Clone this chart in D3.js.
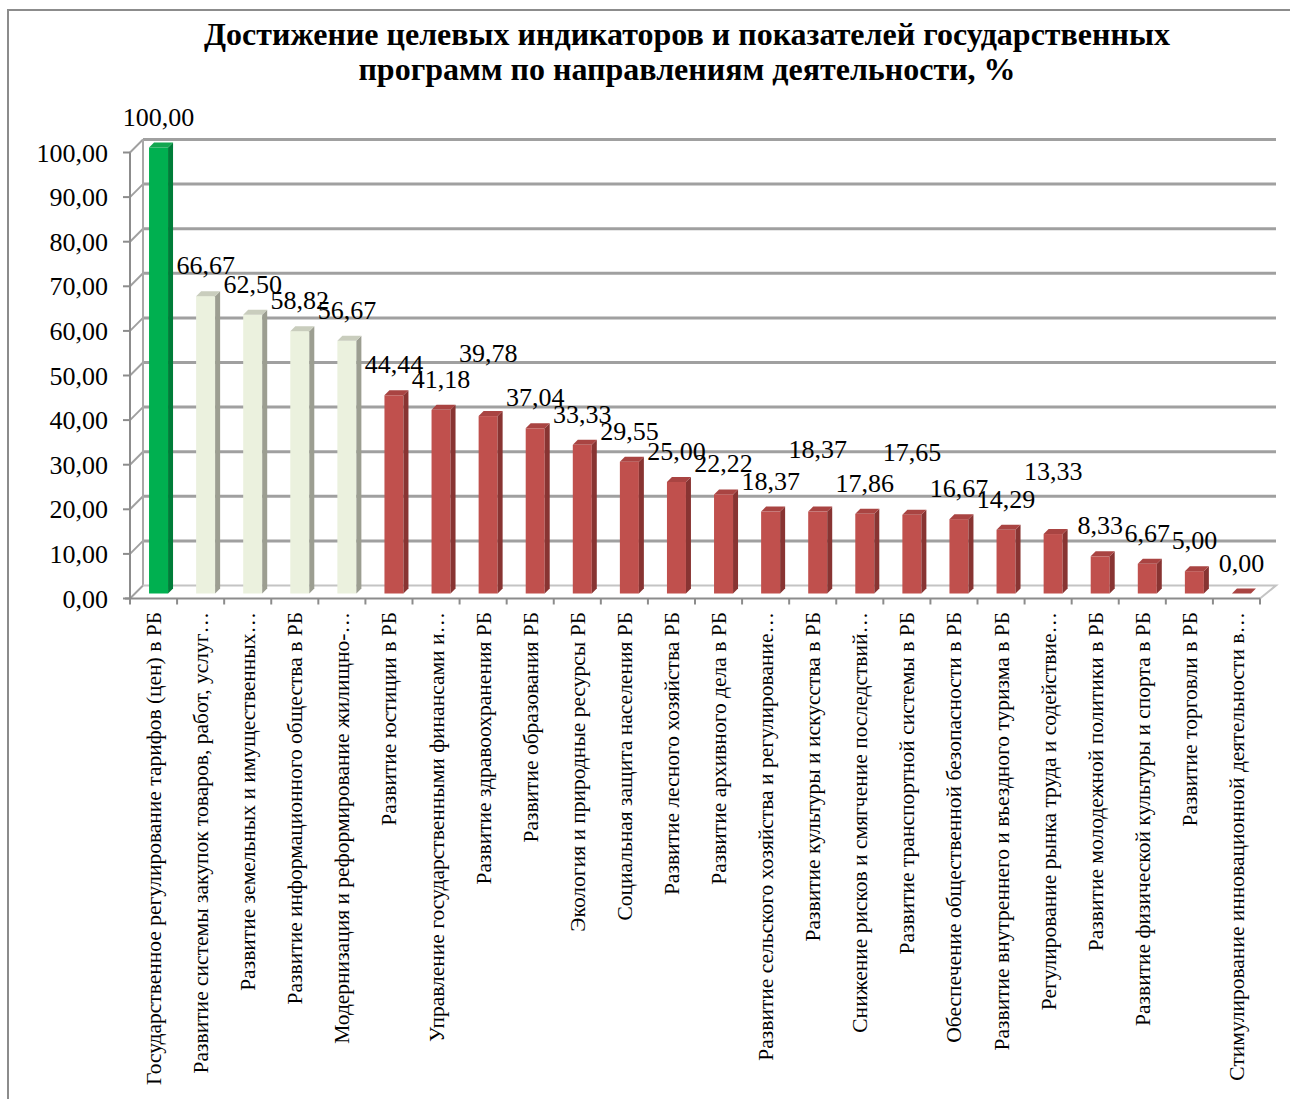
<!DOCTYPE html>
<html>
<head>
<meta charset="utf-8">
<script src="https://cdn.jsdelivr.net/npm/d3@7"></script>
<style>
  body { margin: 0; background: #fff; }
  svg { display: block; font-family: "Liberation Serif", "Times New Roman", serif; }
</style>
</head>
<body>
<div id="chart"></div>
<script>
// Data
const categories = [
  'Государственное регулирование тарифов (цен) в РБ',
  'Развитие системы закупок товаров, работ, услуг…',
  'Развитие земельных и имущественных…',
  'Развитие информационного общества в РБ',
  'Модернизация и реформирование жилищно-…',
  'Развитие юстиции в РБ',
  'Управление государственными финансами и…',
  'Развитие здравоохранения РБ',
  'Развитие образования РБ',
  'Экология  и природные ресурсы РБ',
  'Социальная защита населения РБ',
  'Развитие лесного хозяйства РБ',
  'Развитие архивного дела в РБ',
  'Развитие сельского хозяйства и регулирование…',
  'Развитие культуры и искусства в РБ',
  'Снижение рисков и смягчение последствий…',
  'Развитие транспортной системы в РБ',
  'Обеспечение общественной безопасности в РБ',
  'Развитие внутреннего и въездного туризма в РБ',
  'Регулирование рынка труда и содействие…',
  'Развитие молодежной политики в РБ',
  'Развитие физической культуры и спорта в РБ',
  'Развитие торговли в РБ',
  'Стимулирование инновационной деятельности в…'
];
const values = [100.00, 66.67, 62.50, 58.82, 56.67, 44.44, 41.18, 39.78, 37.04, 33.33,
  29.55, 25.00, 22.22, 18.37, 18.37, 17.86, 17.65, 16.67, 14.29, 13.33, 8.33, 6.67, 5.00, 0.00];
const groups = ['full', 'high', 'high', 'high', 'high', 'low', 'low', 'low', 'low', 'low',
  'low', 'low', 'low', 'low', 'low', 'low', 'low', 'low', 'low', 'low', 'low', 'low', 'low', 'low'];
const yTicks = [0, 10, 20, 30, 40, 50, 60, 70, 80, 90, 100];
const titleLines = [
  'Достижение целевых индикаторов и показателей государственных',
  'программ по направлениям деятельности, %'
];

// Options
const width = 1290, height = 1099;
const depth = 13;          // 3D offset of the back wall
const barFront = 5, barBack = 10, barWidth = 19;
const labelOptions = { gap: 22, minSpacing: 8, lift: 32 };

const palette = {
  full: { front: '#00b050', side: '#007d39', top: '#13a650' },
  high: { front: '#ebf1de', side: '#9c9e91', top: '#c9cdbd' },
  low:  { front: '#c0504d', side: '#883432', top: '#a94442' }
};

const fmt = v => d3.format('.2f')(v).replace('.', ',');

const svg = d3.select('#chart').append('svg')
  .attr('width', width)
  .attr('height', height);

// Chart border
svg.append('path')
  .attr('d', `M8,${height} L8,10 L${width},10`)
  .attr('fill', 'none')
  .attr('stroke', '#8c8c8c')
  .attr('stroke-width', 2);

// Title
svg.append('g').selectAll('text')
  .data(titleLines)
  .join('text')
  .attr('x', 687)
  .attr('y', (d, i) => 45 + i * 35)
  .attr('text-anchor', 'middle')
  .attr('font-size', 32)
  .attr('font-weight', 'bold')
  .text(d => d);

const x = d3.scaleBand()
  .domain(d3.range(categories.length))
  .range([130, 1260]);

const y = d3.scaleLinear()
  .domain([0, 100])
  .range([598.5, 152.5]);

const x0 = x.range()[0], x1 = x.range()[1];

// Back wall gridlines
const walls = svg.append('g');
walls.selectAll('line.grid')
  .data(yTicks.filter(t => t > 0))
  .join('line')
  .attr('class', 'grid')
  .attr('x1', x0 + depth)
  .attr('x2', x1 + 16)
  .attr('y1', d => y(d) - depth)
  .attr('y2', d => y(d) - depth)
  .attr('stroke', '#a0a0a0')
  .attr('stroke-width', 3);

// Side wall diagonals
walls.selectAll('line.diag')
  .data(yTicks)
  .join('line')
  .attr('class', 'diag')
  .attr('x1', x0)
  .attr('x2', x0 + depth)
  .attr('y1', d => y(d))
  .attr('y2', d => y(d) - depth)
  .attr('stroke', '#a0a0a0')
  .attr('stroke-width', 2);

// Wall edges and floor
walls.append('line')
  .attr('x1', x0 + depth).attr('x2', x0 + depth)
  .attr('y1', y(100) - depth).attr('y2', y(0) - depth)
  .attr('stroke', '#a8a8a8').attr('stroke-width', 2);

walls.append('path')
  .attr('d', `M${x0 + depth},${y(0) - depth} L${x1 + 16},${y(0) - depth} L${x1},${y(0)}`)
  .attr('fill', 'none')
  .attr('stroke', '#c4c4c4')
  .attr('stroke-width', 2);

// Y axis
const yAxis = svg.append('g');
yAxis.append('line')
  .attr('x1', x0).attr('x2', x0)
  .attr('y1', y(100)).attr('y2', y(0))
  .attr('stroke', '#8c8c8c').attr('stroke-width', 2);

yAxis.selectAll('line.tick')
  .data(yTicks)
  .join('line')
  .attr('class', 'tick')
  .attr('x1', x0 - 7).attr('x2', x0)
  .attr('y1', d => y(d)).attr('y2', d => y(d))
  .attr('stroke', '#8c8c8c').attr('stroke-width', 2);

yAxis.selectAll('text')
  .data(yTicks)
  .join('text')
  .attr('x', 108)
  .attr('y', d => y(d))
  .attr('dy', '0.35em')
  .attr('text-anchor', 'end')
  .attr('font-size', 26)
  .text(d => fmt(d));

// X axis
const xAxis = svg.append('g');
xAxis.append('line')
  .attr('x1', x0 - 5).attr('x2', x1)
  .attr('y1', y(0)).attr('y2', y(0))
  .attr('stroke', '#8c8c8c').attr('stroke-width', 2);

xAxis.selectAll('line.tick')
  .data(d3.range(categories.length + 1))
  .join('line')
  .attr('class', 'tick')
  .attr('x1', d => x0 + d * x.bandwidth())
  .attr('x2', d => x0 + d * x.bandwidth())
  .attr('y1', y(0)).attr('y2', y(0) + 6)
  .attr('stroke', '#8c8c8c').attr('stroke-width', 2);

xAxis.selectAll('text')
  .data(categories)
  .join('text')
  .attr('transform', (d, i) => `translate(${x(i) + x.bandwidth() / 2},612) rotate(-90)`)
  .attr('dy', '0.35em')
  .attr('text-anchor', 'end')
  .attr('font-size', 21.5)
  .text(d => d);

// Bars
const bars = svg.append('g')
  .selectAll('g')
  .data(values)
  .join('g');

const left = i => x(i) + (x.bandwidth() - barWidth) / 2 + barFront;
const base = () => y(0) - barFront;
const topY = d => y(d) - barFront;
const dd = barBack - barFront;

bars.append('rect')
  .attr('x', (d, i) => left(i))
  .attr('y', d => topY(d))
  .attr('width', barWidth)
  .attr('height', d => base() - topY(d))
  .attr('fill', (d, i) => palette[groups[i]].front);

bars.append('path')
  .attr('d', (d, i) => {
    const r = left(i) + barWidth;
    return `M${r},${topY(d)} L${r + dd},${topY(d) - dd} L${r + dd},${base() - dd} L${r},${base()} Z`;
  })
  .attr('fill', (d, i) => palette[groups[i]].side);

bars.append('path')
  .attr('d', (d, i) => {
    const l = left(i), r = l + barWidth, t = topY(d);
    return `M${l},${t} L${l + dd},${t - dd} L${r + dd},${t - dd} L${r},${t} Z`;
  })
  .attr('fill', (d, i) => palette[groups[i]].top);

// Data labels, lifted when they sit on top of their left neighbour
const labels = bars.append('text')
  .attr('x', (d, i) => left(i) + barWidth / 2)
  .attr('y', d => topY(d) - labelOptions.gap)
  .attr('text-anchor', 'middle')
  .attr('font-size', 26)
  .text(d => fmt(d));

let prev = null;
labels.each(function(d, i) {
  const node = d3.select(this);
  const box = { x: +node.attr('x'), y: +node.attr('y'), w: this.getComputedTextLength(), lifted: false };
  if (prev && !prev.lifted) {
    const hOverlap = Math.abs(box.x - prev.x) < (box.w + prev.w) / 2 - 4;
    const vOverlap = Math.abs(box.y - prev.y) < labelOptions.minSpacing;
    if (hOverlap && vOverlap) {
      box.y -= labelOptions.lift;
      box.lifted = true;
      node.attr('y', box.y);
    }
  }
  prev = box;
});
</script>
</body>
</html>
